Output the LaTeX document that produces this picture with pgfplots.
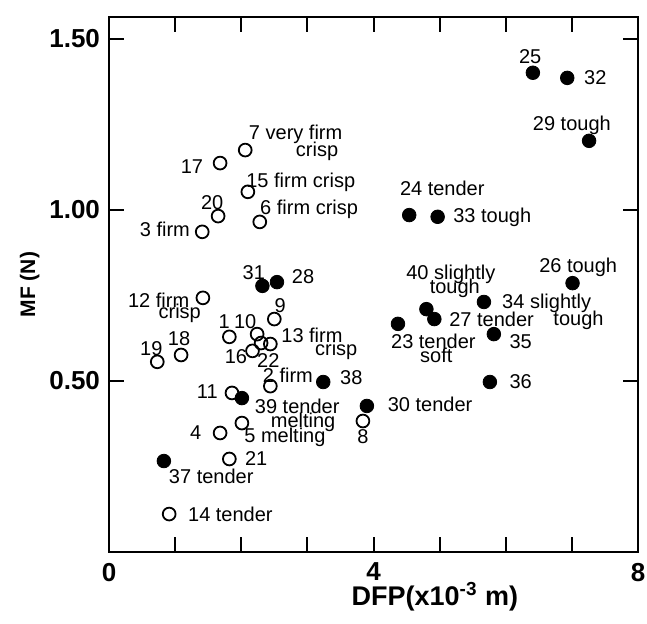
\documentclass[border=0pt]{standalone}
\usepackage{fontspec}
\setmainfont{Liberation Sans}
\usepackage{pgfplots}
\pgfplotsset{compat=1.18}

\begin{document}
\begin{tikzpicture}
\begin{axis}[
  name=ax,
  scale only axis,
  width=264.5pt,
  height=267.5pt,
  xmin=0, xmax=8,
  ymin=0, ymax=1.564,
  xtick={0,4,8},
  minor xtick={1,2,3,5,6,7},
  ytick={0.5,1,1.5},
  yticklabel style={/pgf/number format/fixed, /pgf/number format/fixed zerofill, /pgf/number format/precision=2, xshift=-1pt},
  /pgf/number format/assume math mode=true,
  tick align=inside,
  major tick length=7.5pt,
  minor tick length=7.5pt,
  tick style={black, line width=1pt},
  axis line style={black, line width=1.3pt},
  ticklabel style={font=\fontsize{13}{13}\selectfont\bfseries},
  xticklabel style={yshift=-2pt},
  xlabel={DFP(x10\textsuperscript{-3} m)},
  ylabel={MF (N)},
  xlabel style={font=\fontsize{13.5}{14}\selectfont\bfseries, at={(ticklabel cs:0.616)}, yshift=6.5pt},
  ylabel style={font=\fontsize{10.5}{11}\selectfont\bfseries, at={(ticklabel cs:0.5)}, yshift=-2pt},
  clip=false,
  every node/.append style={font=\fontsize{9.5}{10}\selectfont, inner sep=0pt},
]
% open circles
\addplot[only marks, mark=o, mark size=3.2pt, mark options={line width=0.9pt, black}] coordinates {
  (2.06,1.175) (1.68,1.137) (2.10,1.053) (1.65,0.982) (2.28,0.965)
  (1.41,0.936) (1.42,0.743) (2.50,0.681) (1.82,0.629) (2.24,0.637)
  (2.44,0.608) (2.30,0.611) (2.17,0.588) (1.09,0.576) (0.73,0.556)
  (2.44,0.485) (1.86,0.465) (2.01,0.377) (1.68,0.348) (1.82,0.272)
  (0.91,0.111) (3.84,0.383)
};
% filled circles
\addplot[only marks, mark=*, mark size=3.4pt, mark options={black, fill=black}] coordinates {
  (2.01,0.450) (0.83,0.266) (3.24,0.497) (3.90,0.427) (2.32,0.778)
  (2.54,0.789) (6.41,1.401) (6.93,1.386) (7.26,1.202) (4.54,0.985)
  (4.97,0.980) (7.01,0.786) (5.67,0.731) (4.80,0.710) (4.92,0.681)
  (4.37,0.667) (5.82,0.637) (5.76,0.497)
};
% labels
\node at (axis cs:6.37,1.447) {25};
\node[anchor=west] at (axis cs:7.08,1.386) {32};
\node at (axis cs:7.00,1.246) {29 tough};
\node at (axis cs:5.04,1.064) {24 tender};
\node[anchor=west] at (axis cs:5.10,0.977) {33 tough};
\node[anchor=west] at (axis cs:2.01,1.222) {7 very firm};
\node[anchor=west] at (axis cs:2.72,1.170) {crisp};
\node[anchor=east] at (axis cs:1.53,1.126) {17};
\node[anchor=west] at (axis cs:1.97,1.082) {15 firm crisp};
\node at (axis cs:1.56,1.020) {20};
\node[anchor=west] at (axis cs:2.18,1.003) {6 firm crisp};
\node[anchor=east] at (axis cs:1.33,0.942) {3 firm};
\node at (axis cs:2.19,0.816) {31};
\node[anchor=west] at (axis cs:2.66,0.804) {28};
\node[anchor=east] at (axis cs:1.32,0.737) {12 firm};
\node at (axis cs:1.07,0.699) {crisp};
\node at (axis cs:2.59,0.719) {9};
\node at (axis cs:1.74,0.673) {1};
\node at (axis cs:2.06,0.673) {10};
\node[anchor=west] at (axis cs:2.50,0.632) {13 firm};
\node[anchor=west] at (axis cs:3.01,0.591) {crisp};
\node at (axis cs:1.92,0.570) {16};
\node at (axis cs:2.41,0.561) {22};
\node at (axis cs:0.64,0.596) {19};
\node at (axis cs:1.06,0.623) {18};
\node[anchor=west] at (axis cs:2.22,0.518) {2 firm};
\node[anchor=west] at (axis cs:3.39,0.509) {38};
\node[anchor=east] at (axis cs:1.75,0.468) {11};
\node[anchor=west] at (axis cs:2.10,0.427) {39 tender};
\node[anchor=east] at (axis cs:3.53,0.380) {melting};
\node at (axis cs:3.84,0.336) {8};
\node[anchor=east] at (axis cs:1.50,0.348) {4};
\node[anchor=west] at (axis cs:1.94,0.336) {5 melting};
\node[anchor=west] at (axis cs:1.95,0.272) {21};
\node[anchor=west] at (axis cs:0.80,0.222) {37 tender};
\node[anchor=west] at (axis cs:1.09,0.111) {14 tender};
\node[anchor=west] at (axis cs:4.11,0.433) {30 tender};
\node[anchor=west] at (axis cs:6.40,0.833) {26 tough};
\node[anchor=west] at (axis cs:4.39,0.813) {40 slightly};
\node at (axis cs:5.23,0.772) {tough};
\node[anchor=west] at (axis cs:5.84,0.728) {34 slightly};
\node at (axis cs:7.10,0.678) {tough};
\node[anchor=west] at (axis cs:5.04,0.681) {27 tender};
\node[anchor=west] at (axis cs:4.16,0.617) {23 tender};
\node at (axis cs:4.95,0.576) {soft};
\node[anchor=west] at (axis cs:5.95,0.614) {35};
\node[anchor=west] at (axis cs:5.95,0.497) {36};
\end{axis}
\pgfresetboundingbox
\path ([xshift=-54.5pt,yshift=-35.5pt]ax.south west) rectangle ([xshift=4.5pt,yshift=8.5pt]ax.north east);
\end{tikzpicture}
\end{document}
